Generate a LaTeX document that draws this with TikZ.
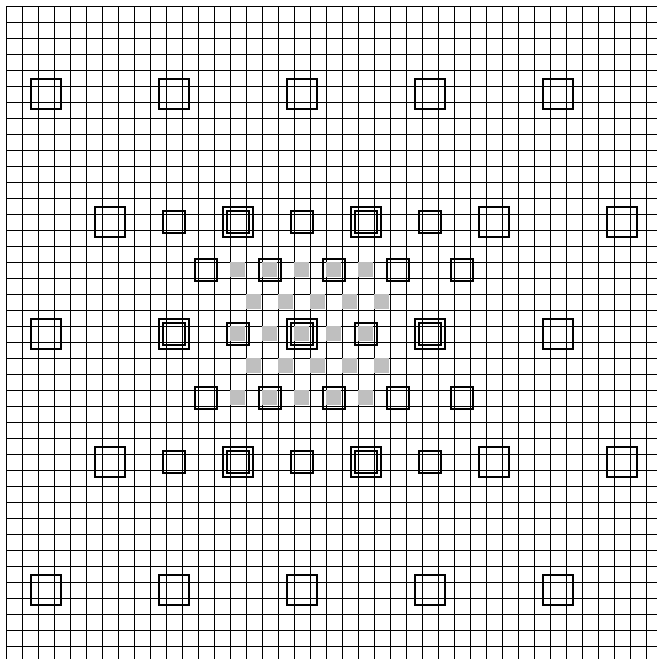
\documentclass[tikz,border=0pt]{standalone}
\usepackage{xcolor}
\usepackage{tikz}
\definecolor{cellgray}{gray}{0.75}

\begin{document}
\begin{tikzpicture}[x=0.4cm,y=0.4cm]
  \useasboundingbox (-0.375,0.375) rectangle (40.6875,-40.8125);
  % grid
  \foreach \k in {0,...,40} {
    \draw[line width=0.7pt] (0,-\k) -- (40.6875,-\k);
    \draw[line width=0.7pt] (\k,0) -- (\k,-40.8125);
  }
  % shaded cells
  \foreach \r in {16,20,24}
    \foreach \c in {14,16,...,22}
      \fill[cellgray] (\c-0.03,-\r+0.03) rectangle +(0.97,-0.97);
  \foreach \r in {18,22}
    \foreach \c in {15,17,...,23}
      \fill[cellgray] (\c-0.03,-\r+0.03) rectangle +(0.97,-0.97);
  % large frames
  \foreach \c/\r in {2/5,10/5,18/5,26/5,34/5,6/13,14/13,22/13,30/13,38/13,
                     2/20,10/20,18/20,26/20,34/20,6/28,14/28,22/28,30/28,38/28,
                     2/36,10/36,18/36,26/36,34/36}
    \draw[line width=1.7pt] (\c-0.45,-\r+0.45) rectangle +(1.9,-1.9);
  % small frames
  \foreach \c/\r in {10/13,14/13,18/13,22/13,26/13,12/16,16/16,20/16,24/16,28/16,
                     10/20,14/20,18/20,22/20,26/20,12/24,16/24,20/24,24/24,28/24,
                     10/28,14/28,18/28,22/28,26/28}
    \draw[line width=1.7pt] (\c-0.2,-\r+0.2) rectangle +(1.4,-1.4);
\end{tikzpicture}
\end{document}
